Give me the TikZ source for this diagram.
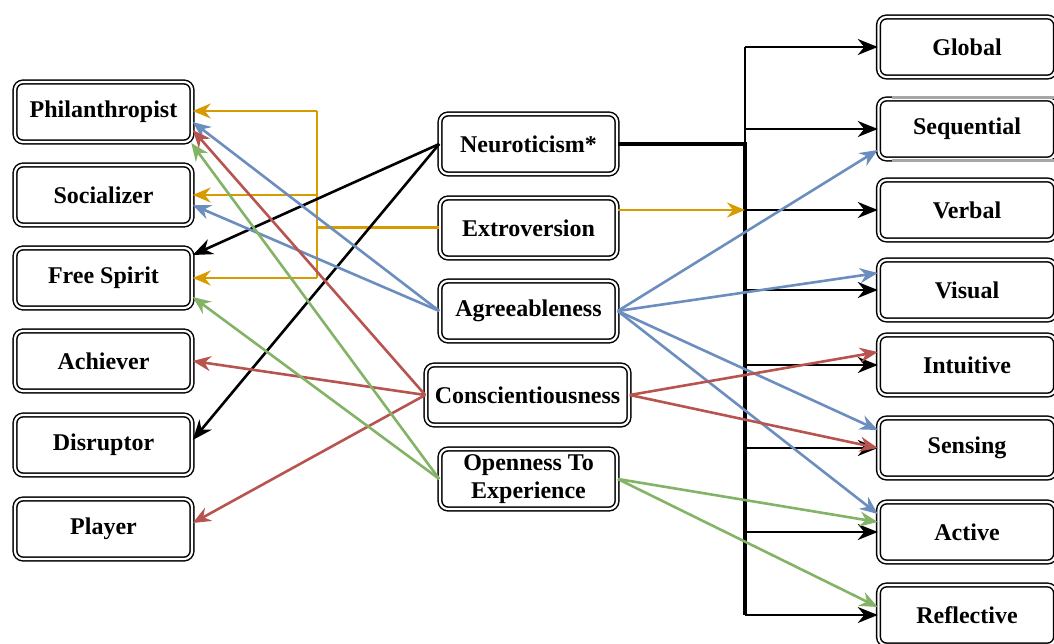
\documentclass[tikz,border=0pt]{standalone}
\usepackage{fontspec}
\setmainfont{Liberation Serif}
\usetikzlibrary{arrows.meta,calc}
\definecolor{cor}{HTML}{D79B00}
\definecolor{cbl}{HTML}{6C8EBF}
\definecolor{cre}{HTML}{B85450}
\definecolor{cgr}{HTML}{82B366}
\begin{document}
\begin{tikzpicture}[x=1pt,y=-1pt,
  box/.style={draw=black, double=white, double distance=2.2pt, line width=1.5pt,
    rounded corners=8pt, fill=white, minimum width=177pt, minimum height=60pt,
    inner sep=0pt, align=center, font=\fontsize{24}{28}\selectfont\bfseries},
  bigtip/.style={-{Stealth[length=20pt,width=16pt,inset=6.5pt]}},
  smalltip/.style={-{Stealth[length=18pt,width=15pt,inset=6pt]}},
  br/.style={black, line width=2.4pt, bigtip},
  oarr/.style={cor, line width=2.6pt, smalltip},
  barr/.style={cbl, line width=2.6pt, smalltip},
  rarr/.style={cre, line width=2.6pt, smalltip},
  garr/.style={cgr, line width=2.6pt, smalltip},
  karr/.style={black, line width=2.6pt, bigtip}]
\useasboundingbox (0,0) rectangle (1054,644);
% left column
\node[box] (phil) at (103.5,112) {Philanthropist};
\node[box] (soc) at (103.5,195) {Socializer};
\node[box] (fs) at (103.5,278) {Free Spirit};
\node[box] (ach) at (103.5,361) {Achiever};
\node[box] (dis) at (103.5,445) {Disruptor};
\node[box] (pla) at (103.5,529) {Player};
% middle column
\node[box] (neu) at (528.5,144) {Neuroticism*};
\node[box] (ext) at (528.5,228) {Extroversion};
\node[box] (agr) at (528.5,311) {Agreeableness};
\node[box, minimum width=203pt] (con) at (527.5,395) {Conscientiousness};
\node[box] (ope) at (528.5,479) {Openness To\\Experience};
% right column
\node[box] (glo) at (967,47) {Global};
\node[box] (seq) at (967,129) {Sequential};
\node[box] (ver) at (967,210) {Verbal};
\node[box] (vis) at (967,290) {Visual};
\node[box] (int) at (967,365) {Intuitive};
\node[box] (sen) at (967,448) {Sensing};
\node[box] (act) at (967,532) {Active};
\node[box] (ref) at (967,615) {Reflective};
\draw[gray!70, line width=3.4pt] (892,97.5) -- (1054,97.5) (892,160.5) -- (1054,160.5);
% bus
\coordinate (bus) at (745,0);
\coordinate (oj) at (317,0);
\draw[black, line width=2.4pt] (bus|-neu.east) -- (bus|-glo.west);
\draw[black, line width=3.8pt] (neu.east) -- (bus|-neu.east) -- (bus|-ref.west);
\foreach \n in {glo,seq,ver,vis,int,sen,act,ref}
  \draw[br] (bus|-\n.west) -- (\n.west);
% extroversion
\draw[oarr] (ext.east|-ver.west) -- (bus|-ver.west);
\draw[cor, line width=3pt] (ext.west) -- (oj|-ext.west);
\draw[cor, line width=2.6pt] ($(oj|-phil.east)+(0,-1)$) -- (oj|-fs.east);
\draw[oarr] ($(oj|-phil.east)+(0,-1)$) -- ($(phil.east)+(0,-1)$);
\draw[oarr] (oj|-soc.east) -- (soc.east);
\draw[oarr] (oj|-fs.east) -- (fs.east);
% neuroticism
\draw[karr] (neu.west) -- ($(fs.east)+(0,-23)$);
\draw[karr] (neu.west) -- ($(dis.east)+(0,-5)$);
% agreeableness
\draw[barr] (agr.west) -- ($(phil.east)+(0,10)$);
\draw[barr] (agr.west) -- ($(soc.east)+(0,10)$);
\draw[barr] (agr.east) -- ($(seq.west)+(0,21)$);
\draw[barr] (agr.east) -- ($(vis.west)+(0,-17)$);
\draw[barr] (agr.east) -- ($(sen.west)+(0,-18)$);
\draw[barr] (agr.east) -- ($(act.west)+(0,-18)$);
% conscientiousness
\draw[rarr] (con.west) -- ($(phil.east)+(0,18)$);
\draw[rarr] (con.west) -- (ach.east);
\draw[rarr] (con.west) -- ($(pla.east)+(0,-6)$);
\draw[rarr] (con.east) -- ($(int.west)+(0,-13)$);
\draw[rarr] (con.east) -- (sen.west);
% openness
\draw[garr] (ope.west) -- ($(phil.east)+(-1.5,31)$);
\draw[garr] (ope.west) -- ($(fs.east)+(0,19)$);
\draw[garr] (ope.east) -- ($(act.west)+(0,-10)$);
\draw[garr] (ope.east) -- ($(ref.west)+(0,-8)$);
\end{tikzpicture}
\end{document}
